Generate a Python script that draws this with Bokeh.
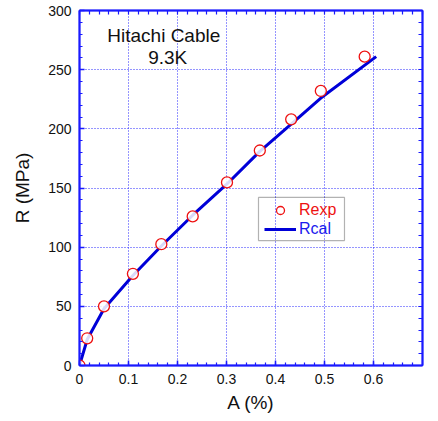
import numpy as np
from bokeh.plotting import figure
from bokeh.models import (LinearAxis, SingleIntervalTicker, FixedTicker, CustomJSTickFormatter,
                          Legend, LegendItem, BoxAnnotation, Label, Range1d)
from bokeh.embed import file_html
from bokeh.resources import INLINE

# Data
A_exp = [0.0, 0.0157, 0.050, 0.109, 0.167, 0.231, 0.301, 0.368, 0.432, 0.4925, 0.582]
R_exp = [0.0, 23.0, 50.0, 77.5, 102.5, 126.0, 154.7, 181.7, 208.0, 232.0, 261.0]
A_cal = [0.0, 0.0157, 0.050, 0.109, 0.167, 0.231, 0.300, 0.368, 0.432, 0.4925, 0.6055]
R_cal = [0.0, 22.0, 48.0, 76.0, 101.0, 127.0, 153.0, 181.0, 204.0, 226.0, 261.0]
x_label = "A (%)"
y_label = "R (MPa)"
title1 = "Hitachi Cable"
title2 = "9.3K"

FONT = "Liberation Sans"
AX = "#1a1aff"
LINE = "#0000d8"
RED = "#ee1111"

p = figure(width=438, height=421, output_backend="svg", toolbar_location=None,
           x_range=Range1d(0, 0.7), y_range=Range1d(0, 300),
           x_axis_location=None, y_axis_location=None,
           min_border_left=79, min_border_right=16, min_border_top=10, min_border_bottom=56)
p.background_fill_color = "white"
p.border_fill_color = "white"
p.outline_line_color = AX
p.outline_line_width = 1.5

xt = SingleIntervalTicker(interval=0.1, num_minor_ticks=5)
yt = SingleIntervalTicker(interval=50, num_minor_ticks=5)
xfmt = CustomJSTickFormatter(code="return tick.toFixed(1).replace(/\\.0$/, '');")
yfmt = CustomJSTickFormatter(code="return tick.toFixed(0);")
# top / right axes: tick marks only (as minor ticks, so no labels are drawn)
xt_top = FixedTicker(ticks=[], minor_ticks=[round(v, 2) for v in np.arange(0, 0.7001, 0.02)])
yt_right = FixedTicker(ticks=[], minor_ticks=[float(v) for v in np.arange(0, 300.1, 10)])

def style(ax, labels=True):
    ax.axis_line_color = AX
    ax.axis_line_width = 2
    ax.major_tick_line_color = AX
    ax.minor_tick_line_color = AX
    ax.major_tick_line_width = 1.5
    ax.minor_tick_line_width = 1.2
    ax.major_tick_in = 5
    ax.major_tick_out = 0
    ax.minor_tick_in = 3
    ax.minor_tick_out = 0
    if labels:
        ax.major_label_text_font = FONT
        ax.major_label_text_font_size = "14px"
        ax.major_label_text_color = "#111111"
        ax.major_label_standoff = 8
        ax.axis_label_text_font = FONT
        ax.axis_label_text_font_size = "19px"
        ax.axis_label_text_font_style = "normal"
        ax.axis_label_text_color = "#111111"
    else:
        ax.major_label_standoff = 0
        ax.minor_tick_in = 4

xb = LinearAxis(ticker=xt, formatter=xfmt, axis_label=x_label)
style(xb)
xb.axis_label_standoff = 5
yl = LinearAxis(ticker=yt, formatter=yfmt, axis_label=y_label)
style(yl)
yl.axis_label_standoff = 12
xa = LinearAxis(ticker=xt_top)
style(xa, labels=False)
yr = LinearAxis(ticker=yt_right)
style(yr, labels=False)
p.add_layout(xb, "below")
p.add_layout(yl, "left")
p.add_layout(xa, "above")
p.add_layout(yr, "right")

p.xgrid.ticker = xt
p.ygrid.ticker = yt
for g in (p.xgrid, p.ygrid):
    g.grid_line_color = "#2a2aff"
    g.grid_line_dash = "1 2"
    g.grid_line_width = 1

cal = p.line(A_cal, R_cal, line_color=LINE, line_width=3)
exp = p.scatter(A_exp, R_exp, marker="circle", size=11, line_color=RED, line_width=1.3,
                fill_color="white", fill_alpha=0.85)

p.add_layout(Label(x=0.172, y=279, text=title1, text_font=FONT, text_font_size="19px",
                   text_align="center", text_baseline="middle", text_color="#111111"))
p.add_layout(Label(x=0.18, y=260, text=title2, text_font=FONT, text_font_size="19px",
                   text_align="center", text_baseline="middle", text_color="#111111"))

# legend frame
p.add_layout(BoxAnnotation(left=0.3653, right=0.5408, bottom=105.6, top=142.0,
                           fill_alpha=0, line_color="black", line_width=1.2))

def mk_legend(item, loc, color):
    lg = Legend(items=[item], location=loc, padding=0, margin=0, spacing=0,
                glyph_width=32, glyph_height=20, label_height=20, label_standoff=3,
                label_text_font=FONT, label_text_font_size="16px", label_text_color=color,
                border_line_alpha=0, background_fill_alpha=0)
    return lg

p.add_layout(mk_legend(LegendItem(label="Rexp", renderers=[exp]), (185, 145), RED), "center")
p.add_layout(mk_legend(LegendItem(label="Rcal", renderers=[cal]), (185, 126), "#1a1aee"), "center")

open("out.html", "w").write(file_html(p, INLINE))
